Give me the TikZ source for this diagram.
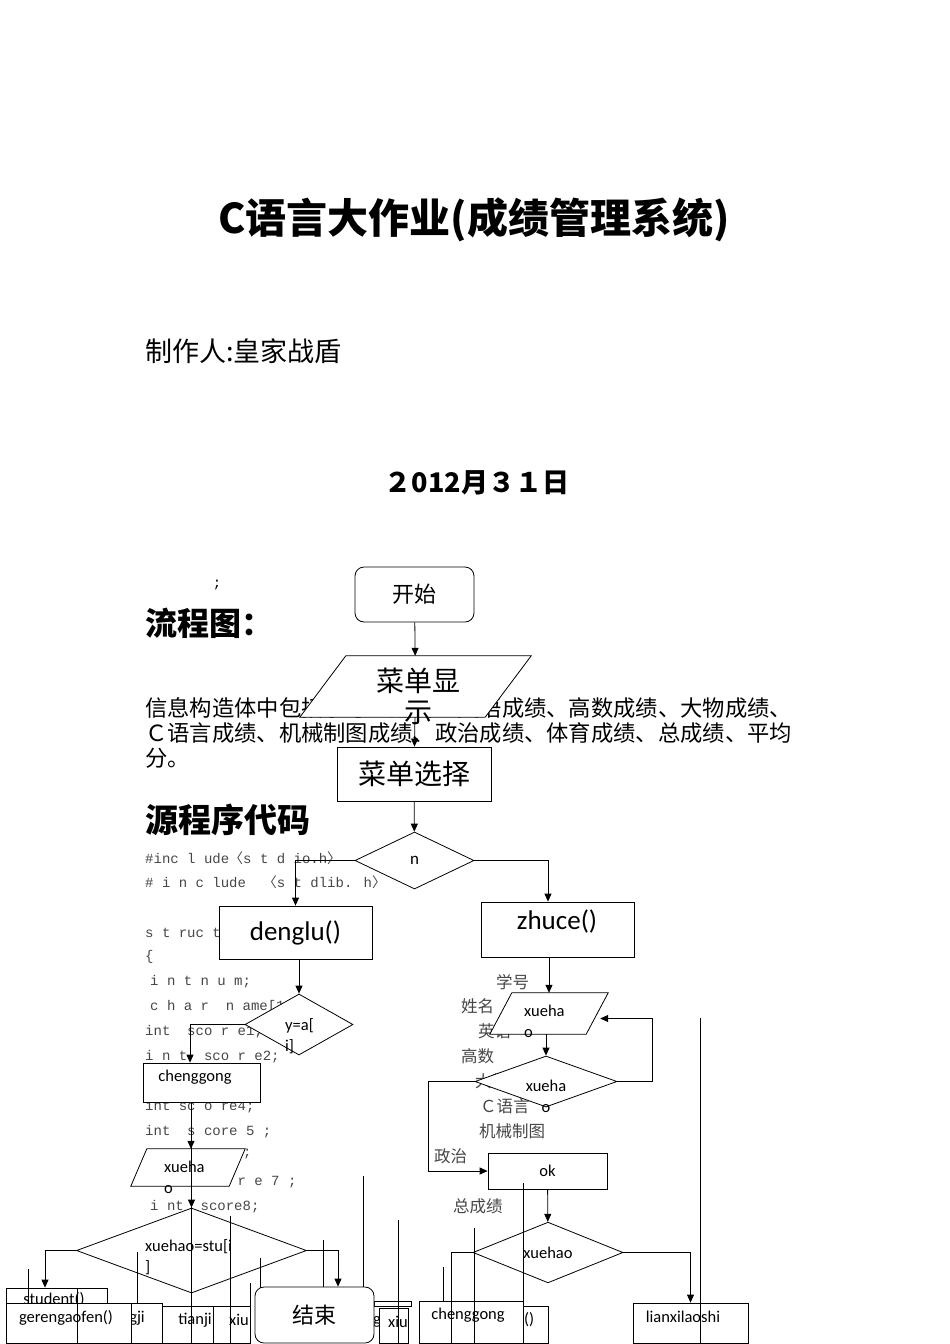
\documentclass[tikz,border=0pt]{standalone}
\usepackage{fontspec}
\setmainfont{Carlito}
\newfontfamily\cjk{Noto Sans CJK SC}
\newfontfamily\codefont{Liberation Mono}
\usetikzlibrary{arrows.meta,shapes.geometric}
\definecolor{codegray}{RGB}{70,70,70}
\newcommand{\setsz}[2]{\fontsize{#1}{#2}\selectfont}
% parallelogram over the frame of a node: name, slant offset
\newcommand{\para}[2]{\draw[line width=0.8pt,fill=white] ([xshift=#2]#1.north west) -- (#1.north east) -- ([xshift=-#2]#1.south east) -- (#1.south west) -- cycle;}
\tikzset{box/.style={draw,fill=white,line width=0.8pt,inner sep=0pt,align=center},term/.style={box,rounded corners=9pt},io/.style={inner sep=0pt},dec/.style={box,diamond},edge/.style={-{Triangle[length=8pt,width=7pt]},line width=0.8pt},wire/.style={line width=0.8pt},txt/.style={anchor=west,inner sep=0pt},code/.style={txt,text=codegray,font={\codefont\setsz{14}{16}}},note/.style={txt,text=codegray,font={\cjk\setsz{16.5}{20}}},lab/.style={inner sep=0pt,align=left,font={\setsz{16.5}{21}}}}

\begin{document}
\begin{tikzpicture}[x=1pt,y=-1pt]
\useasboundingbox (0,0) rectangle (950,1344);
% cover page
\node[inner sep=0pt,font={\cjk\bfseries\setsz{41}{44}}] (title) at (474,220) {C语言大作业(成绩管理系统)};
\node[txt,font={\cjk\setsz{27}{30}}] (maker) at (145,351) {制作人:皇家战盾};
\node[inner sep=0pt,font={\cjk\bfseries\setsz{27}{30}}] (date) at (477,483) {２012月３１日};
\node[inner sep=0pt,font={\codefont\setsz{14}{16}}] (semi) at (217,585) {;};
\node[txt,font={\cjk\bfseries\setsz{32}{36}}] (flowhead) at (145,623) {流程图：};
\node[txt,font={\cjk\setsz{22.3}{25}}] (info1) at (145,708) {信息构造体中包括学号、姓名、英语成绩、高数成绩、大物成绩、};
\node[txt,font={\cjk\setsz{22.3}{25}}] (info2) at (145,733) {Ｃ语言成绩、机械制图成绩、政治成绩、体育成绩、总成绩、平均};
\node[txt,font={\cjk\setsz{22.3}{25}}] (info3) at (145,758) {分。};
\node[txt,font={\cjk\bfseries\setsz{33}{36}}] (srchead) at (145,820) {源程序代码};
% source code
\node[code] (c1) at (145,858) {\#inc l ude{\cjk 〈}s t d io.h{\cjk 〉}};
\node[code] (c2) at (145,882) {\# i n c lude\ \ {\cjk 〈}s t dlib. h{\cjk 〉}};
\node[code] (c3) at (145,933) {s t ruc t};
\node[code] (c4) at (145,957) {\{};
\node[code] (c5) at (150,982) {i n t n u m;};
\node[code] (c6) at (150,1007) {c h a r\ \ n ame[10];};
\node[code] (c7) at (145,1032) {int\ \ sco r e1;};
\node[code] (c8) at (145,1057) {i n t\ \ sco r e2;};
\node[code] (c10) at (145,1107) {int sc o re4;};
\node[code] (c11) at (145,1132) {int\ \ s core 5 ;};
\node[code] (c12) at (243,1154) {;};
\node[code] (c13) at (145,1182) {int\ \ s c o r e 7 ;};
\node[code] (c14) at (150,1207) {i nt\ \ score8;};
% field notes
\node[note] (n1) at (496,982) {学号};
\node[note] (n2) at (461,1006) {姓名};
\node[note] (n3) at (478,1031) {英语};
\node[note] (n4) at (461,1056) {高数};
\node[note] (n5) at (475,1081) {大物};
\node[note] (n6) at (480,1106) {Ｃ语言};
\node[note] (n7) at (479,1131) {机械制图};
\node[note] (n8) at (434,1156) {政治};
\node[note] (n9) at (453,1206) {总成绩};
% flow chart
\node[term,minimum width=119,minimum height=55,font={\cjk\setsz{22}{26}}] (start) at (414.5,594.5) {开始};
\node[io,minimum width=231,minimum height=61] (show) at (415.5,686.5) {};
\para{show}{46}
\node[inner sep=0pt,align=center,font={\cjk\setsz{28}{31}}] (showtxt) at (418,696) {菜单显\\示};
\node[box,minimum width=154,minimum height=54,font={\cjk\setsz{28}{31}}] (choose) at (414,774) {菜单选择};
\node[dec,minimum width=119,minimum height=57,font={\setsz{17}{20}}] (ndec) at (414.5,860.5) {n};
\node[box,minimum width=153,minimum height=53,font={\setsz{27}{30}}] (denglu) at (295.5,932.5) {denglu()};
\node[box,minimum width=153,minimum height=55] (zhuce) at (557.5,929.5) {};
\node[inner sep=0pt,font={\setsz{27}{30}}] (zhucetxt) at (557,921) {zhuce()};
\node[dec,minimum width=108,minimum height=61] (yai) at (299,1024.5) {};
\node[lab,txt] (yaitxt) at (285,1036.5) {y=a[\\i]};
\node[box,minimum width=117,minimum height=39] (cg) at (201.5,1082.5) {};
\node[lab] (cgtxt) at (195,1077) {chenggong};
\node[io,minimum width=114,minimum height=37] (inA) at (188,1167.5) {};
\para{inA}{16}
\node[lab,txt] (inAtxt) at (164,1177) {xueha\\o};
\node[dec,minimum width=230,minimum height=85] (bigdec) at (191.5,1250.5) {};
\node[lab,txt] (bigtxt) at (145,1257) {xuehao=stu[i\\]};
\node[io,minimum width=118,minimum height=41] (inB) at (549,1013.5) {};
\para{inB}{22}
\node[lab,txt] (inBtxt) at (524,1021) {xueha\\o};
\node[dec,minimum width=142,minimum height=51] (chk) at (546,1081.5) {};
\node[lab,align=center] (chktxt) at (546,1096) {xueha\\o};
\node[box,minimum width=119,minimum height=36,font={\setsz{16.5}{20}}] (ok) at (547.5,1171) {ok};
\node[dec,minimum width=150,minimum height=59,font={\setsz{16.5}{20}}] (xhd) at (548,1252.5) {xuehao};
\draw[edge] (start) -- (show);
\draw[edge] (show) -- (choose);
\draw[edge] (choose) -- (ndec);
\draw[edge] (ndec.west) -| (denglu.north);
\draw[edge] (ndec.east) -| ([xshift=-9.5pt]zhuce.north);
\draw[edge] (yai.north |- denglu.south) -- (yai.north);
\draw[edge] (yai.west) -| ([xshift=-11.5pt]cg.north);
\draw[edge] ([xshift=-10.5pt]cg.south) -- ([xshift=-10.5pt]cg.south |- inA.north);
\draw[edge] (bigdec.north |- inA.south) -- (bigdec.north);
\draw[edge] (inB.north |- zhuce.south) -- (inB.north);
\draw[edge] (chk.north |- inB.south) -- (chk.north);
\draw[edge] (chk.east) -- ++(35,0) |- ([xshift=-8pt,yshift=-5pt]inB.east);
\draw[edge] (chk.west) -- ++(-46,0) |- (ok.west);
\draw[edge] (ok) -- (xhd);
% bottom row of boxes
\node[box,minimum width=101,minimum height=55] (student) at (56.5,1315.5) {};
\node[lab] (studtxt) at (54,1300) {student()};
\node[box,minimum width=85,minimum height=40] (tongji) at (119.5,1323) {};
\node[lab] (gjitxt) at (137,1318) {gji};
\node[box,minimum width=125,minimum height=40] (geren) at (68.5,1323) {};
\node[lab] (gerentxt) at (66,1318) {gerengaofen()};
\node[box,minimum width=68,minimum height=37] (tianji) at (196,1324.5) {};
\node[lab] (tianjitxt) at (195,1320) {tianji};
\node[box,minimum width=20,minimum height=37] (xiuA) at (240,1324.5) {};
\node[lab] (xiuAtxt) at (239,1320) {xiu};
\node[box,minimum width=37,minimum height=5] (thin) at (392.5,1303.5) {};
\node[lab] (gtxt) at (377,1322) {g};
\node[box,minimum width=29,minimum height=35] (xiuB) at (393.5,1325.5) {};
\node[lab] (xiuBtxt) at (398,1322) {xiu};
\node[box,minimum width=25,minimum height=37] (paren) at (535.5,1324.5) {};
\node[lab] (parentxt) at (529,1320) {()};
\node[box,minimum width=104,minimum height=42] (cgB) at (471,1322) {};
\node[lab] (cgBtxt) at (468,1315) {chenggong};
\node[box,minimum width=115,minimum height=40] (lianxi) at (690.5,1323) {};
\node[lab] (lianxitxt) at (683,1317) {lianxilaoshi};
\coordinate (xhdend) at (451,1344);
\draw[edge] (bigdec.west) -| ([xshift=-11.5pt]student.north);
\draw[edge] (xhd.east) -| (lianxi.north);
\draw[wire] (xhd.west) -| (xhdend);
% loose lines
\draw[wire] (191,1102) -- (191,1344);
\draw[wire] (28,1269) -- (28,1303);
\draw[wire] (77,1288) -- (77,1344);
\draw[wire] (137,1252) -- (137,1303);
\draw[wire] (213,1306) -- (213,1344);
\draw[wire] (230,1216) -- (230,1344);
\draw[wire] (250,1283) -- (250,1306);
\draw[wire] (260,1258) -- (260,1306);
\draw[wire] (323,1240) -- (323,1287);
\draw[wire] (363,1176) -- (363,1287);
\draw[wire] (398,1220) -- (398,1344);
\draw[wire] (443,1267) -- (443,1301);
\draw[wire] (474,1228) -- (474,1344);
\draw[wire] (523,1183) -- (523,1344);
\draw[wire] (700,1018) -- (700,1344);
\node[term,minimum width=119,minimum height=56,font={\cjk\setsz{22}{26}}] (endnode) at (314.5,1315) {结束};
\draw[edge] (bigdec.east) -| ([xshift=23.5pt]endnode.north);
\end{tikzpicture}
\end{document}
